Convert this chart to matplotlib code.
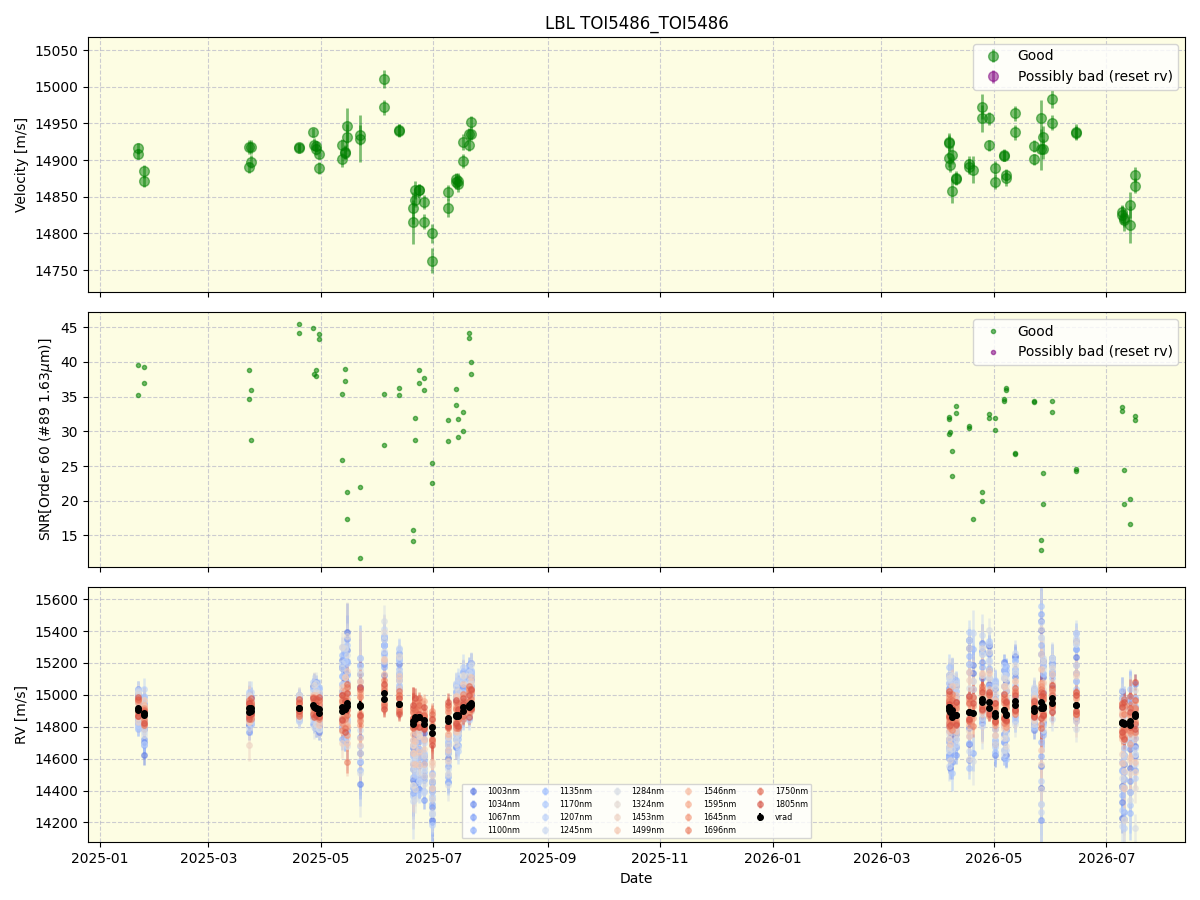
import numpy as np
import pandas as pd
import matplotlib
matplotlib.use('Agg')
import matplotlib.pyplot as plt
import matplotlib.dates as mdates

obs_dates = [
    '2025-01-21 18:00', '2025-01-21 21:00', '2025-01-25 00:00', '2025-01-25 03:00',
    '2025-03-23 00:00', '2025-03-23 03:00', '2025-03-24 02:00', '2025-03-24 05:00',
    '2025-04-19 02:00', '2025-04-19 05:00',
    '2025-04-27 00:00', '2025-04-27 03:00', '2025-04-28 12:00', '2025-04-28 15:00',
    '2025-04-29 20:00', '2025-04-29 23:00',
    '2025-05-12 10:00', '2025-05-12 13:00', '2025-05-13 22:00', '2025-05-14 01:00',
    '2025-05-15 00:00', '2025-05-15 03:00',
    '2025-05-22 05:00', '2025-05-22 08:00',
    '2025-06-04 05:00', '2025-06-04 08:00',
    '2025-06-12 07:00', '2025-06-12 10:00',
    '2025-06-19 22:00', '2025-06-20 01:00', '2025-06-21 00:00', '2025-06-21 03:00',
    '2025-06-23 05:00', '2025-06-23 08:00', '2025-06-25 22:00', '2025-06-26 01:00',
    '2025-06-30 00:00', '2025-06-30 03:00',
    '2025-07-08 22:00', '2025-07-09 01:00',
    '2025-07-13 05:00', '2025-07-13 08:00', '2025-07-14 07:00', '2025-07-14 10:00',
    '2025-07-17 00:00', '2025-07-17 03:00',
    '2025-07-20 07:00', '2025-07-20 10:00', '2025-07-21 07:00', '2025-07-21 10:00',
    '2026-04-06 14:00', '2026-04-06 17:00', '2026-04-06 15:00', '2026-04-07 00:00',
    '2026-04-08 05:00', '2026-04-08 08:00',
    '2026-04-10 10:00', '2026-04-10 13:00',
    '2026-04-17 10:00', '2026-04-17 13:00', '2026-04-19 17:00',
    '2026-04-24 12:00', '2026-04-24 15:00',
    '2026-04-28 07:00', '2026-04-28 10:00',
    '2026-05-01 12:00', '2026-05-01 15:00',
    '2026-05-06 10:00', '2026-05-06 13:00', '2026-05-07 07:00', '2026-05-07 10:00',
    '2026-05-12 10:00', '2026-05-12 13:00',
    '2026-05-22 12:00', '2026-05-22 15:00',
    '2026-05-26 12:00', '2026-05-26 15:00',
    '2026-05-27 14:00', '2026-05-27 17:00',
    '2026-06-01 10:00', '2026-06-01 13:00',
    '2026-06-14 10:00', '2026-06-14 13:00',
    '2026-07-09 10:00', '2026-07-09 13:00', '2026-07-10 12:00', '2026-07-10 15:00',
    '2026-07-13 17:00', '2026-07-13 20:00', '2026-07-16 10:00', '2026-07-16 13:00',
]

velocity = [
    14916, 14908, 14885, 14871, 14918, 14890, 14918, 14898, 14918, 14916,
    14938, 14921, 14919, 14915, 14909, 14889, 14921, 14901, 14911, 14910,
    14947, 14931, 14934, 14929, 15011, 14972, 14941, 14940, 14835, 14816,
    14846, 14859, 14859, 14859, 14843, 14816, 14800, 14763, 14856, 14835,
    14874, 14870, 14867, 14872, 14899, 14925, 14921, 14936, 14936, 14952,
    14925, 14924, 14903, 14894, 14907, 14858, 14874, 14876, 14895, 14891,
    14887, 14973, 14957, 14957, 14920, 14889, 14870, 14907, 14906, 14880,
    14875, 14964, 14938, 14919, 14901, 14957, 14915, 14915, 14931, 14983,
    14951, 14939, 14937, 14829, 14825, 14821, 14818, 14839, 14812, 14880,
    14865,
]

velocity_err = [
    8, 7, 9, 8, 10, 8, 9, 9, 6, 6,
    6, 9, 7, 8, 7, 8, 8, 10, 9, 9,
    24, 18, 14, 32, 12, 10, 8, 9, 22, 30,
    10, 12, 8, 9, 9, 10, 13, 17, 10, 12,
    9, 10, 11, 10, 10, 11, 8, 8, 9, 8,
    12, 10, 12, 10, 12, 16, 8, 9, 10, 10,
    18, 17, 18, 9, 8, 10, 10, 8, 7, 8,
    10, 10, 10, 8, 8, 25, 28, 14, 16, 12,
    10, 10, 10, 10, 12, 12, 15, 18, 25, 10,
    10,
]

snr = [
    39.6, 35.2, 39.3, 37.0, 38.9, 34.7, 36.0, 28.7, 45.5, 44.2,
    44.9, 38.3, 38.9, 38.0, 44.0, 43.3, 35.4, 25.8, 39.0, 37.3,
    21.3, 17.3, 22.0, 11.7, 35.4, 28.1, 36.3, 35.2, 15.8, 14.2,
    31.9, 28.7, 38.9, 37.0, 37.7, 36.0, 25.4, 22.6, 31.6, 28.6,
    36.1, 33.8, 31.8, 29.2, 32.8, 30.0, 44.2, 43.4, 40.0, 38.3,
    32.1, 31.8, 29.6, 29.9, 27.1, 23.5, 33.7, 32.6, 30.7, 30.5,
    17.4, 21.3, 19.9, 32.5, 31.9, 31.9, 30.2, 34.6, 34.4, 36.2,
    36.0, 26.9, 26.8, 34.4, 34.3, 14.4, 12.9, 24.0, 19.5, 34.4,
    32.8, 24.6, 24.3, 33.5, 32.9, 24.4, 19.5, 20.2, 16.7, 32.2,
    31.6,
]

# per-wavelength LBL velocities, offsets from vrad in units of 10 m/s
bands = ['1003nm', '1034nm', '1067nm', '1100nm', '1135nm', '1170nm', '1207nm', '1245nm', '1284nm',
         '1324nm', '1453nm', '1499nm', '1546nm', '1595nm', '1645nm', '1696nm', '1750nm', '1805nm']
band_err = [60, 56, 52, 52, 56, 56, 60, 64, 68, 72, 80, 68, 42, 35, 32, 32, 35, 42]

b1003 = "8 -6 -10 -25 | 5 -8 3 -4 | 6 -3 | 12 -5 8 -12 3 -9 | 25 -10 18 8 45 -15 | -30 12 | 30 15 | 25 10 | -20 -35 -10 -25 -15 -30 -8 -20 | -40 -55 | -25 -10 | -15 10 -5 18 | 15 5 20 8 12 25 | -20 10 -30 5 -15 25 | 18 -12 | 40 -20 25 | 30 -10 | 35 15 | -20 10 | 25 -15 20 -25 | 28 5 | -10 8 | 45 -50 | 20 -10 | 15 25 | 30 -8 | -40 -60 10 -25 -30 15 -20 5"
b1034 = "-5 10 -18 3 | -10 8 -6 2 | -4 8 | -8 15 -3 6 -14 10 | 30 12 -20 22 10 35 | -49 20 | 35 22 | 15 30 | -30 -15 -40 -20 -45 -10 -35 -25 | -50 -30 | -40 -20 | 12 -20 8 -10 | 10 -5 18 22 6 14 | 12 -25 -10 -35 20 -15 | -20 8 | -10 45 30 | 35 15 | 20 40 | 15 -25 | -20 30 -10 15 | 15 30 | 12 -12 | -40 55 | 30 -5 | 25 10 | 40 20 | -50 20 -35 -10 -45 -15 10 -25"
b1067 = "12 -8 5 -15 | 3 -12 7 -5 | -7 4 | 5 -10 16 -6 10 -2 | -12 28 15 -8 40 20 | 25 -35 | 25 38 | 32 20 | -45 -25 -15 -40 -30 -20 -50 -10 | -60 -35 | -30 -15 | -20 15 -12 5 | 20 10 -5 25 18 8 | -30 15 -20 -5 10 -28 | 12 -25 | 30 -30 15 | -15 25 | 30 10 | -10 20 | 10 -30 25 -5 | -5 20 | 5 -8 | 30 -70 | -15 25 | 20 -5 | 15 35 | 15 -40 -60 -20 5 -35 -15 20"
b1100 = "-10 5 -20 8 | 8 -5 -10 6 | 5 -6 | -12 8 -6 14 -10 5 | 15 -18 35 25 -12 28 | -20 30 | 30 20 | 18 28 | -15 -40 -30 -10 -20 -45 -25 -35 | -35 -45 | -15 -35 | 18 -10 -18 10 | 5 22 12 -8 20 15 | 20 -30 5 -20 -25 10 | -15 20 | 45 10 -25 | 20 -5 | 15 35 | 20 -15 | -25 15 30 -15 | 20 -8 | -12 10 | 55 -30 | 10 28 | -8 20 | 25 45 | -30 10 -20 -55 15 -10 -35 -5"
b1135 = "6 -12 10 -8 | -6 10 -3 8 | 8 -2 | 10 -4 -10 12 -8 15 | 20 35 -15 10 25 -8 | 15 -40 | 20 34 | 22 12 | -35 -20 -45 -15 -25 -38 -12 -30 | -45 -25 | -20 -38 | -8 20 15 -15 | 25 12 8 15 -3 20 | -15 20 -25 15 -20 -8 | 22 -10 | -20 35 40 | 28 -12 | 10 25 | -25 12 | 20 -20 -10 28 | 25 -10 | 8 -5 | -25 40 | 22 -18 | 12 28 | 35 -10 | -25 -45 15 -30 -15 -55 5 -10"
b1170 = "-12 8 -5 12 | 10 -3 -8 4 | -5 7 | -6 12 8 -8 14 -10 | -8 22 30 -20 18 38 | 10 -25 | 36 28 | 10 35 | -20 -45 -25 -35 -10 -40 -30 -18 | -55 -40 | -35 -18 | 15 -12 20 -8 | -5 18 25 10 15 5 | 25 -10 -30 10 15 -35 | -8 15 | 25 -35 10 | -8 32 | 38 5 | 8 -20 | -15 25 -28 10 | 10 28 | -6 12 | 60 -60 | -10 20 | 22 5 | 10 38 | 10 -30 -40 -15 20 -50 -25 0"
b1207 = "10 -10 15 -18 | -4 6 10 -8 | 3 -8 | 14 -8 5 -12 8 10 | 38 -5 12 30 -18 15 | -35 25 | 30 40 | 28 18 | -40 -10 -35 -28 -48 -15 -22 -42 | -30 -58 | -28 -12 | -12 12 -22 22 | 12 25 -8 5 22 18 | -25 5 20 -20 -10 12 | 15 -20 | 50 -15 20 | 15 35 | -5 30 | -18 22 | 28 -10 15 -22 | -12 22 | 10 -10 | -50 45 | 28 -12 | 5 18 | 42 15 | -55 5 -20 -65 -10 15 -40 -20"
b1245 = "-8 12 -12 5 | 6 -10 4 -6 | -8 5 | -10 6 12 -4 -12 8 | 15 30 -10 38 5 -20 | 30 -15 | 40 30 | 35 15 | -25 -48 -15 -32 -40 -20 -45 -12 | -40 -50 | -12 -30 | 20 -15 12 -20 | 18 -5 22 15 10 25 | 15 -20 -35 20 -5 25 | -18 10 | -25 30 50 | 40 -15 | 25 40 | 18 -12 | -28 22 -15 25 | 30 -5 | -8 15 | 50 -65 | -5 30 | 25 -10 | 20 45 | 20 -65 -35 5 -45 -10 10 -30"
b1284 = "10 -5 8 -12 | -8 10 -4 7 | 8 -6 | 8 -12 -6 16 5 -10 | 25 -10 38 15 30 -25 | 22 -42 | 45 38 | 20 30 | -30 -18 -50 -25 -35 -10 -40 -28 | -55 -35 | -22 -40 | -15 18 10 -12 | 22 8 15 -6 25 12 | -28 18 -15 -8 22 -20 | 20 -15 | 15 45 -30 | -12 30 | 45 20 | -15 18 | 15 -25 22 -12 | 18 -12 | 12 -5 | 40 -60 | 25 -15 | 20 28 | 38 -15 | -35 15 -60 -20 -50 10 -25 -70"
b1324 = "-6 10 -10 6 | 8 -6 -5 5 | -6 8 | -8 14 10 -10 -4 12 | -15 40 20 -12 42 10 | -30 20 | 38 25 | 30 8 | -15 -38 -22 -45 -12 -30 -35 -20 | -45 -30 | -35 -15 | 12 -18 -10 15 | 8 20 5 18 12 -4 | 20 -25 10 -30 -12 15 | -12 18 | -30 40 20 | 32 5 | 15 35 | 12 -18 | -18 20 -20 18 | 22 10 | -10 10 | -55 50 | 15 28 | -5 22 | 25 40 | 5 -40 -25 -60 -10 -30 15 -45"
b1453 = "5 -8 -3 6 | -23 4 -6 3 | 4 -4 | -5 8 -3 6 -8 4 | 10 -20 15 -5 20 -10 | -25 15 | 20 8 | 10 15 | -15 -25 -8 -20 -30 -12 -18 -10 | -30 -20 | -12 -25 | 8 -10 12 -6 | 10 4 12 -3 15 8 | -12 10 -18 5 -8 12 | 10 -8 | 20 -12 15 | 15 -8 | 20 10 | -10 10 | 10 -12 15 -8 | 12 -5 | 6 -6 | 30 -35 | 12 -8 | 10 -4 | 18 -10 | -20 8 -30 -10 -25 5 -15 -35"
b1499 = "-4 6 8 -6 | 5 -6 4 -3 | -3 5 | 6 -4 8 -6 4 -8 | -15 15 -8 20 -25 12 | 15 -20 | 12 25 | 18 6 | -20 -10 -28 -15 -8 -22 -12 -25 | -22 -35 | -20 -8 | -10 12 -5 10 | 6 14 -4 10 8 16 | 10 -15 8 -20 15 -6 | -10 12 | -15 25 10 | -5 18 | 8 22 | 8 -12 | -10 15 -6 12 | -8 15 | -5 8 | -30 25 | -6 15 | 15 5 | -8 20 | 10 -25 -10 -40 5 -20 -30 0"
b1546 = "3 -4 5 -2 | -3 5 2 -4 | 2 -3 | -4 3 -2 5 -5 2 | -6 4 -10 8 -3 -12 | 6 -8 | -4 5 | -2 4 | 5 -6 8 2 -3 10 4 -2 | 6 -5 | 4 -8 | -3 6 2 -5 | 4 -2 6 3 -4 8 | -5 6 -8 3 -3 8 | 4 -5 | -6 5 8 | 3 -6 | -4 6 | 5 -3 | 6 -5 -3 7 | -4 5 | 3 -3 | -8 10 | 5 -4 | -3 6 | -5 4 | 6 -10 -4 8 -6 3 -12 5"
b1595 = "-3 5 -2 4 | 4 -2 -5 3 | -2 4 | 3 -5 4 -3 6 -2 | 5 -8 6 -4 -15 8 | -5 10 | 5 -6 | 4 -3 | 8 3 -5 10 6 -4 12 2 | -4 8 | 8 2 | 5 -4 -6 8 | -3 6 -2 8 5 -4 | 6 -4 5 -10 8 -2 | -4 6 | 6 -8 -3 | -5 4 | 5 -3 | -4 6 | -5 8 4 -6 | 6 -3 | -4 4 | 12 -6 | -3 6 | 5 -5 | 4 -6 | -8 5 10 -5 4 -12 8 -3"
b1645 = "5 -2 3 -5 | -2 4 -4 6 | 4 -2 | -2 6 -5 2 -4 6 | -10 6 -5 12 -20 4 | 8 -12 | -6 8 | 6 -2 | 2 8 -3 6 10 5 -4 8 | 10 -6 | -5 6 | -6 4 8 -3 | 5 -4 9 2 -2 6 | -8 3 -4 8 -6 5 | 6 -3 | -4 10 4 | 6 -3 | -6 4 | 4 -6 | 8 -3 -8 5 | -5 8 | 5 -2 | -5 14 | 6 -5 | -4 8 | 6 -4 | 10 -6 -3 12 -8 6 -5 4"
b1696 = "-2 6 -4 3 | 5 -3 3 -5 | -4 3 | 5 -3 6 -5 3 -4 | 4 -12 8 -6 10 -35 | -10 6 | 8 -3 | -4 6 | 6 -2 10 4 -6 8 2 5 | -8 5 | 6 -4 | 4 -8 -2 6 | -5 8 -3 10 4 -2 | 4 -10 6 -5 10 -8 | -5 4 | 8 -5 -8 | -4 8 | 5 -5 | -6 4 | 4 -8 6 -4 | 5 -6 | -3 5 | 8 -10 | -5 4 | 6 -3 | -6 8 | -5 12 6 -8 10 -4 4 -10"
b1750 = "6 -4 2 -6 | -5 6 -3 4 | 3 -5 | -6 4 -3 6 -2 8 | 8 -5 -12 6 12 -6 | 10 -6 | -8 6 | 8 -5 | -4 10 6 -2 8 12 -5 6 | 8 -4 | -6 10 | 8 -6 4 -8 | 6 -6 4 12 -2 8 | 8 -6 -10 4 6 -3 | 8 -6 | -6 6 10 | 8 -5 | -3 8 | 6 -4 | -6 6 8 -4 | 8 -4 | -5 3 | 6 -12 | 8 -6 | -5 5 | 8 -6 | 12 -8 15 -4 8 18 -6 10"
b1805 = "-5 8 -6 2 | 3 -4 6 -2 | -2 6 | 4 -6 2 -4 8 -3 | -8 10 5 -14 -4 8 | -6 12 | 6 -6 | -6 4 | 10 4 -4 12 2 -6 8 -3 | 5 -8 | 10 -3 | -5 10 -6 4 | 8 2 -6 6 10 -4 | -6 10 4 -8 -4 6 | -6 8 | 10 -4 6 | -6 6 | 6 -4 | -5 8 | 10 -5 -4 8 | -6 6 | 4 -4 | -10 8 | -4 8 | 8 -6 | -4 6 | -6 10 -10 14 -4 8 20 -8"

band_offsets = [b1003, b1034, b1067, b1100, b1135, b1170, b1207, b1245, b1284,
                b1324, b1453, b1499, b1546, b1595, b1645, b1696, b1750, b1805]

t = pd.to_datetime(obs_dates)
vel = np.array(velocity, float)
verr = np.array(velocity_err, float)

fig, axes = plt.subplots(3, 1, figsize=(12, 9), dpi=100, sharex=True)
fig.subplots_adjust(left=0.0733, right=0.9875, top=0.959, bottom=0.064, hspace=0.078)
bg = '#fdfde3'

# velocity panel
ax = axes[0]
ax.errorbar(t, vel, yerr=verr, fmt='o', color='green', alpha=0.5, ms=7, elinewidth=2, label='Good')
ax.errorbar([], [], yerr=[], fmt='o', color='purple', alpha=0.5, ms=7, elinewidth=2,
            label='Possibly bad (reset rv)')
ax.set_ylabel('Velocity [m/s]')
ax.set_title('LBL TOI5486_TOI5486')
ax.set_ylim(14720, 15068)
ax.legend(loc='upper right')

# SNR panel
ax = axes[1]
ax.plot(t, snr, 'o', color='green', alpha=0.55, ms=3, label='Good')
ax.plot([], [], 'o', color='purple', alpha=0.55, ms=3, label='Possibly bad (reset rv)')
ax.set_ylabel(r'SNR[Order 60 (#89 1.63$\mu$m)]')
ax.set_ylim(10.4, 47.2)
ax.legend(loc='upper right')

# per-wavelength RV panel
ax = axes[2]
colors = plt.cm.coolwarm(np.linspace(0.1, 0.9, len(bands)))
for name, off, be, c in zip(bands, band_offsets, band_err, colors):
    d = np.array(off.replace('|', ' ').split(), float) * 10
    assert len(d) == len(vel), (name, len(d))
    ax.errorbar(t, vel + d, yerr=be * verr / 8.0, fmt='o', color=c, alpha=0.5,
                ms=4, elinewidth=1.8, label=name)
ax.errorbar(t, vel, yerr=verr, fmt='o', color='black', ms=4, elinewidth=1.5, label='vrad')
ax.set_ylabel('RV [m/s]')
ax.set_xlabel('Date')
ax.set_ylim(14075, 15675)
ax.legend(loc='lower center', ncol=5, fontsize=5.8)

for ax in axes:
    ax.set_facecolor(bg)
    ax.grid(True, linestyle='--', color='#b8b8c8', alpha=0.7, lw=0.8)
    ax.set_axisbelow(True)

axes[2].xaxis.set_major_locator(mdates.MonthLocator(bymonth=[1, 3, 5, 7, 9, 11]))
axes[2].xaxis.set_major_formatter(mdates.DateFormatter('%Y-%m'))

plt.savefig('out.png')
